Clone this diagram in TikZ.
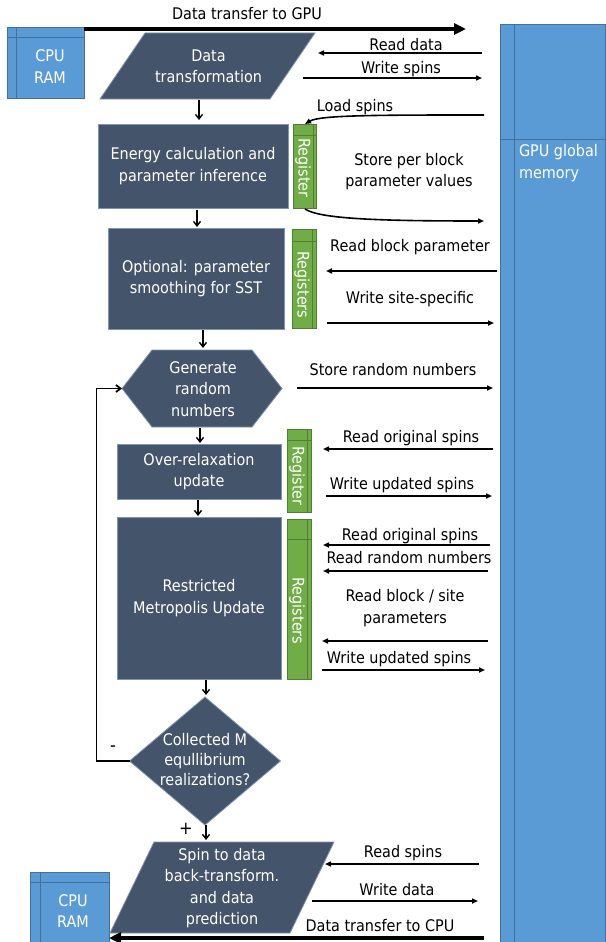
\documentclass[tikz,border=0pt]{standalone}
\usepackage{fontspec}
\setmainfont{DejaVu Sans}[FakeStretch=0.9]
\usetikzlibrary{arrows.meta,calc}
\definecolor{slate}{HTML}{44546A}
\definecolor{slateedge}{HTML}{7E95B5}
\definecolor{gblue}{HTML}{5B9BD5}
\definecolor{gline}{HTML}{41719C}
\definecolor{rgreen}{HTML}{70AD47}
\definecolor{rline}{HTML}{507E32}
\begin{document}
\begin{tikzpicture}[x=1pt,y=-1pt,
  every node/.style={inner sep=0pt,outer sep=0pt},
  txt/.style={font=\fontsize{16}{21.5}\selectfont,align=center},
  wtxt/.style={txt,text=white},
  box/.style={wtxt,draw=slateedge,fill=slate,line width=0.8pt},
  shapefill/.style={draw=slateedge,fill=slate,line width=0.8pt},
  reg/.style={fill=rgreen,draw=rline,line width=0.6pt},
  regline/.style={draw=rline,line width=0.6pt},
  regtxt/.style={wtxt,rotate=-90},
  mem/.style={fill=gblue,draw=gline,line width=0.8pt},
  memline/.style={draw=gline,line width=0.8pt},
  flow/.style={-{Straight Barb[length=4.5pt,width=7pt]},line width=1.4pt},
  io/.style={-{Triangle[length=6pt,width=5pt]},line width=1.6pt},
  big/.style={-{Triangle[length=12pt,width=11pt]},line width=4pt},
  lbl/.style={txt,text=black}]
\useasboundingbox (0,0) rectangle (605,942);
\fill[white] (0,0) rectangle (605,942);

% GPU global memory
\node[mem,minimum width=105pt,minimum height=918pt,anchor=north west] (gpu) at (500,24) {};
\draw[memline] (514,24) -- (514,942);
\draw[memline] (500,139) -- (605,139);
\node[wtxt,align=left,anchor=west] (gputxt) at (519,163) {GPU global\\memory};

% CPU RAM top
\node[mem,minimum width=77pt,minimum height=71pt] (cpu1) at (45.5,62.5) {};
\draw[memline] (16,27) -- (16,98);
\draw[memline] (7,37) -- (84,37);
\node[wtxt] (cpu1txt) at (50,66.5) {CPU\\RAM};

% CPU RAM bottom
\node[mem,minimum width=79pt,minimum height=70pt] (cpu2) at (69.5,907) {};
\draw[memline] (40,872) -- (40,942);
\draw[memline] (30,882) -- (109,882);
\node[wtxt] (cpu2txt) at (73,911) {CPU\\RAM};

% Data transformation parallelogram
\node[minimum width=215pt,minimum height=66pt] (dtb) at (207.5,66) {};
\fill[shapefill] (145,33) -- (315,33) -- (270,99) -- (100,99) -- cycle;
\node[wtxt] (dt) at (208.5,66.5) {Data\\transformation};

% Energy
\node[box,minimum width=190pt,minimum height=84pt] (energy) at (193,166) {Energy calculation and\\parameter inference};
\node[reg,minimum width=23pt,minimum height=84pt] (r1) at (304.5,166) {};
\draw[regline] (293,135) -- (316,135);
\draw[regline] (313,124) -- (313,208);
\node[regtxt] (r1t) at (303,168) {Register};

% Optional
\node[box,minimum width=176pt,minimum height=101pt] (optional) at (196,278.5) {Optional: parameter\\smoothing for SST};
\node[reg,minimum width=24pt,minimum height=99pt] (r2) at (304,278.5) {};
\draw[regline] (292,241) -- (316,241);
\draw[regline] (312,229) -- (312,328);
\node[regtxt] (r2t) at (302,285) {Registers};

% Hexagon
\node[minimum width=160pt,minimum height=77pt] (hex) at (202,388.5) {};
\fill[shapefill] (152,350) -- (252,350) -- (hex.east) -- (252,427) -- (152,427) -- (hex.west) -- cycle;
\node[wtxt] (hextxt) at (203,389) {Generate\\random\\numbers};

% Over-relaxation
\node[box,minimum width=164pt,minimum height=55pt] (over) at (199,471.5) {Over-relaxation\\update};
\node[reg,minimum width=24pt,minimum height=83pt] (r3) at (299,470.5) {};
\draw[regline] (287,440) -- (311,440);
\draw[regline] (307,429) -- (307,512);
\node[regtxt] (r3t) at (297,476) {Register};

% Metropolis
\node[box,minimum width=164pt,minimum height=162pt] (metro) at (199,598) {Restricted\\Metropolis Update};
\node[reg,minimum width=24pt,minimum height=160pt] (r4) at (299,599) {};
\draw[regline] (287,539) -- (311,539);
\draw[regline] (307,519) -- (307,679);
\node[regtxt] (r4t) at (297,611) {Registers};

% Diamond
\node[minimum width=151pt,minimum height=128pt] (dia) at (205,761) {};
\fill[shapefill] (dia.north) -- (dia.east) -- (dia.south) -- (dia.west) -- cycle;
\node[wtxt,font=\fontsize{16}{20}\selectfont] (diatxt) at (205,760) {Collected M\\equllibrium\\realizations?};

% Bottom parallelogram
\node[minimum width=224pt,minimum height=91pt] (bpb) at (222,887.5) {};
\fill[shapefill] (154,842) -- (334,842) -- (290,933) -- (110,933) -- cycle;
\node[wtxt] (bpt) at (222,888) {Spin to data\\back-transform.\\and data\\prediction};

% flow arrows
\coordinate (x1) at (199,0);
\coordinate (x2) at (197,0);
\coordinate (x3) at (203,0);
\coordinate (x4) at (200,0);
\coordinate (x5) at (198,0);
\coordinate (x6) at (206,0);
\draw[flow,shorten <=1pt,shorten >=4pt] (dtb.south -| x1) -- (energy.north -| x1);
\draw[flow,shorten <=2pt,shorten >=1pt] (energy.south -| x2) -- (optional.north -| x2);
\draw[flow,shorten <=1pt,shorten >=2pt] (optional.south -| x3) -- (hex.north -| x3);
\draw[flow,shorten <=1pt,shorten >=1pt] (hex.south -| x4) -- (over.north -| x4);
\draw[flow,shorten <=1pt,shorten >=1pt] (over.south -| x5) -- (metro.north -| x5);
\draw[flow,shorten <=1pt,shorten >=2pt] (metro.south -| x6) -- (dia.north -| x6);
\draw[flow,shorten >=2pt] (dia.south -| x6) -- (bpb.north -| x6);
\draw[flow,line width=1.8pt] (dia.west) -- ++(-33,0) |- (hex.west);
\node[lbl,font=\fontsize{18}{20}\selectfont] (minus) at (113,749) {-};
\node[lbl,font=\fontsize{18}{20}\selectfont] (plus) at (186,829) {+};

% big transfers
\coordinate (gputip) at (466,29);
\draw[big] ([yshift=-2pt]cpu1.north east) -- (gputip);
\node[lbl] (tgpu) at (247,14) {Data transfer to GPU};
\coordinate (cpustart) at (484,938);
\draw[big] (cpustart) -- ([yshift=4pt]cpu2.south east);
\node[lbl] (tcpu) at (380,926) {Data transfer to CPU};

% memory access arrows
\coordinate (a1s) at (482,53);  \coordinate (a1e) at (318,53);
\draw[io] (a1s) -- (a1e);
\node[lbl] (l1) at (406,45) {Read data};
\coordinate (a2s) at (303,78);  \coordinate (a2e) at (482,78);
\draw[io] (a2s) -- (a2e);
\node[lbl] (l2) at (401,69) {Write spins};
\coordinate (a3s) at (484,115); \coordinate (a3e) at (305,124);
\draw[io] (a3s) .. controls (380,115) and (320,115) .. (a3e);
\node[lbl] (l3) at (355,107) {Load spins};
\node[lbl] (l4) at (409,171.5) {Store per block\\parameter values};
\coordinate (a4s) at (305,209); \coordinate (a4e) at (484,221);
\draw[io] (a4s) .. controls (320,219) and (380,221) .. (a4e);
\coordinate (a5s) at (497,271); \coordinate (a5e) at (326,271);
\draw[io] (a5s) -- (a5e);
\node[lbl] (l5) at (410,247) {Read block parameter};
\coordinate (a6s) at (327,323); \coordinate (a6e) at (494,323);
\draw[io] (a6s) -- (a6e);
\node[lbl] (l6) at (410,299) {Write site-specific};
\coordinate (a7s) at (297,388); \coordinate (a7e) at (493,388);
\draw[io] (a7s) -- (a7e);
\node[lbl] (l7) at (393,370) {Store random numbers};
\coordinate (a8s) at (493,449); \coordinate (a8e) at (323,449);
\draw[io] (a8s) -- (a8e);
\node[lbl] (l8) at (411,438) {Read original spins};
\coordinate (a9s) at (326,496); \coordinate (a9e) at (492,496);
\draw[io] (a9s) -- (a9e);
\node[lbl] (l9) at (402,485) {Write updated spins};
\coordinate (a10s) at (490,545); \coordinate (a10e) at (323,545);
\draw[io] (a10s) -- (a10e);
\node[lbl] (l10) at (410,536) {Read original spins};
\coordinate (a11s) at (488,571); \coordinate (a11e) at (323,571);
\draw[io] (a11s) -- (a11e);
\node[lbl] (l11) at (409,558) {Read random numbers};
\coordinate (a12s) at (488,641); \coordinate (a12e) at (322,641);
\draw[io] (a12s) -- (a12e);
\node[lbl] (l12) at (405,608) {Read block / site\\parameters};
\coordinate (a13s) at (322,670); \coordinate (a13e) at (485,670);
\draw[io] (a13s) -- (a13e);
\node[lbl] (l13) at (399,659) {Write updated spins};
\coordinate (a14s) at (479,864); \coordinate (a14e) at (325,864);
\draw[io] (a14s) -- (a14e);
\node[lbl] (l14) at (403,853) {Read spins};
\coordinate (a15s) at (312,901); \coordinate (a15e) at (478,901);
\draw[io] (a15s) -- (a15e);
\node[lbl] (l15) at (397,890) {Write data};
\end{tikzpicture}
\end{document}
